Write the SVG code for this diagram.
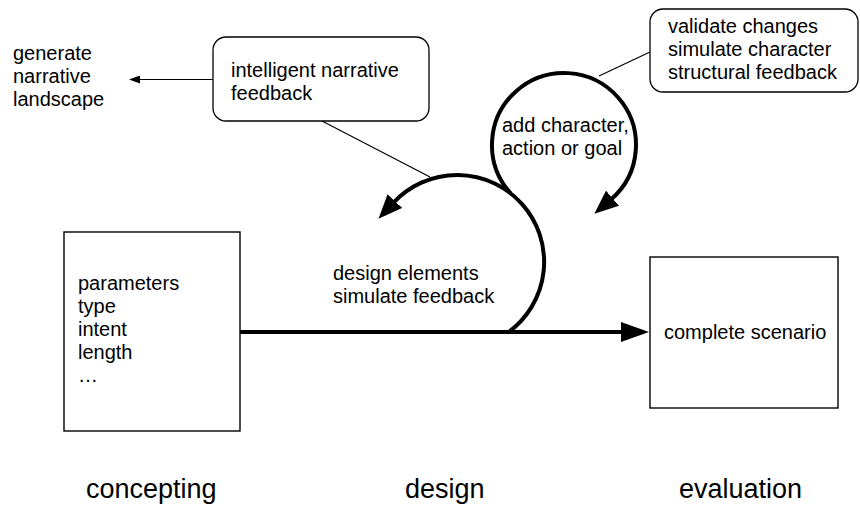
<svg xmlns="http://www.w3.org/2000/svg" width="860" height="510" viewBox="0 0 860 510">
  <defs>
    <style>
      text { font-family: "Liberation Sans", Arial, sans-serif; fill: #000; }
      .t { font-size: 20px; }
      .phase { font-size: 27px; }
      .box { fill: #fff; stroke: #000; stroke-width: 1.4; }
      .note { fill: #fff; stroke: #000; stroke-width: 1.3; }
      .thick { fill: none; stroke: #000; stroke-width: 4; }
      .thin { fill: none; stroke: #000; stroke-width: 1.2; }
    </style>
    <marker id="headBig" markerUnits="userSpaceOnUse" markerWidth="28" markerHeight="20" refX="1" refY="10" orient="auto">
      <path d="M0,0 L28,10 L0,20 z" fill="#000"/>
    </marker>
    <marker id="headArc" markerUnits="userSpaceOnUse" markerWidth="24" markerHeight="20" refX="2" refY="10" orient="auto">
      <path d="M0,0 L24,10 L0,20 z" fill="#000"/>
    </marker>
    <marker id="headSmall" markerUnits="userSpaceOnUse" markerWidth="11" markerHeight="8" refX="1" refY="4" orient="auto">
      <path d="M0,0 L11,4 L0,8 z" fill="#000"/>
    </marker>
  </defs>

  <!-- connectors -->
  <g id="connectors">
    <line class="thick" x1="240" y1="332" x2="622" y2="332" marker-end="url(#headBig)"/>
    <path class="thick" d="M 508.7 332 A 87 87 0 1 0 393.5 202.6" marker-end="url(#headArc)"/>
    <path class="thick" d="M 510.5 193.2 A 72 72 0 1 1 611 199.5" marker-end="url(#headArc)"/>
    <line class="thin" x1="213" y1="79.5" x2="139" y2="79.5" marker-end="url(#headSmall)"/>
    <line class="thin" x1="322" y1="121" x2="430" y2="177"/>
    <line class="thin" x1="650" y1="52" x2="599" y2="76"/>
  </g>

  <!-- concepting input box -->
  <g id="parameters">
    <rect class="box" x="64" y="232" width="176" height="199"/>
    <text class="t" x="78" y="290">parameters</text>
    <text class="t" x="78" y="313">type</text>
    <text class="t" x="78" y="336">intent</text>
    <text class="t" x="78" y="359">length</text>
    <text class="t" x="78" y="382">…</text>
  </g>

  <!-- evaluation output box -->
  <g id="scenario">
    <rect class="box" x="650" y="257" width="188" height="151"/>
    <text class="t" x="664" y="339">complete scenario</text>
  </g>

  <!-- loop labels -->
  <g id="design-loop">
    <text class="t" x="333" y="280">design elements</text>
    <text class="t" x="333" y="303">simulate feedback</text>
  </g>
  <g id="add-loop">
    <text class="t" x="502" y="132">add character,</text>
    <text class="t" x="502" y="155">action or goal</text>
  </g>

  <!-- callouts -->
  <g id="narrative-feedback">
    <rect class="note" x="213" y="37" width="216" height="84" rx="13" ry="13"/>
    <text class="t" x="231" y="77">intelligent narrative</text>
    <text class="t" x="231" y="100">feedback</text>
  </g>
  <g id="structural-feedback">
    <rect class="note" x="650" y="9" width="208" height="83" rx="13" ry="13"/>
    <text class="t" x="668" y="33">validate changes</text>
    <text class="t" x="668" y="56">simulate character</text>
    <text class="t" x="668" y="79">structural feedback</text>
  </g>
  <g id="landscape">
    <text class="t" x="13" y="60">generate</text>
    <text class="t" x="13" y="83">narrative</text>
    <text class="t" x="13" y="106">landscape</text>
  </g>

  <!-- phase labels -->
  <g id="phases">
    <text class="phase" x="86" y="498">concepting</text>
    <text class="phase" x="405" y="498">design</text>
    <text class="phase" x="679" y="498">evaluation</text>
  </g>
</svg>
